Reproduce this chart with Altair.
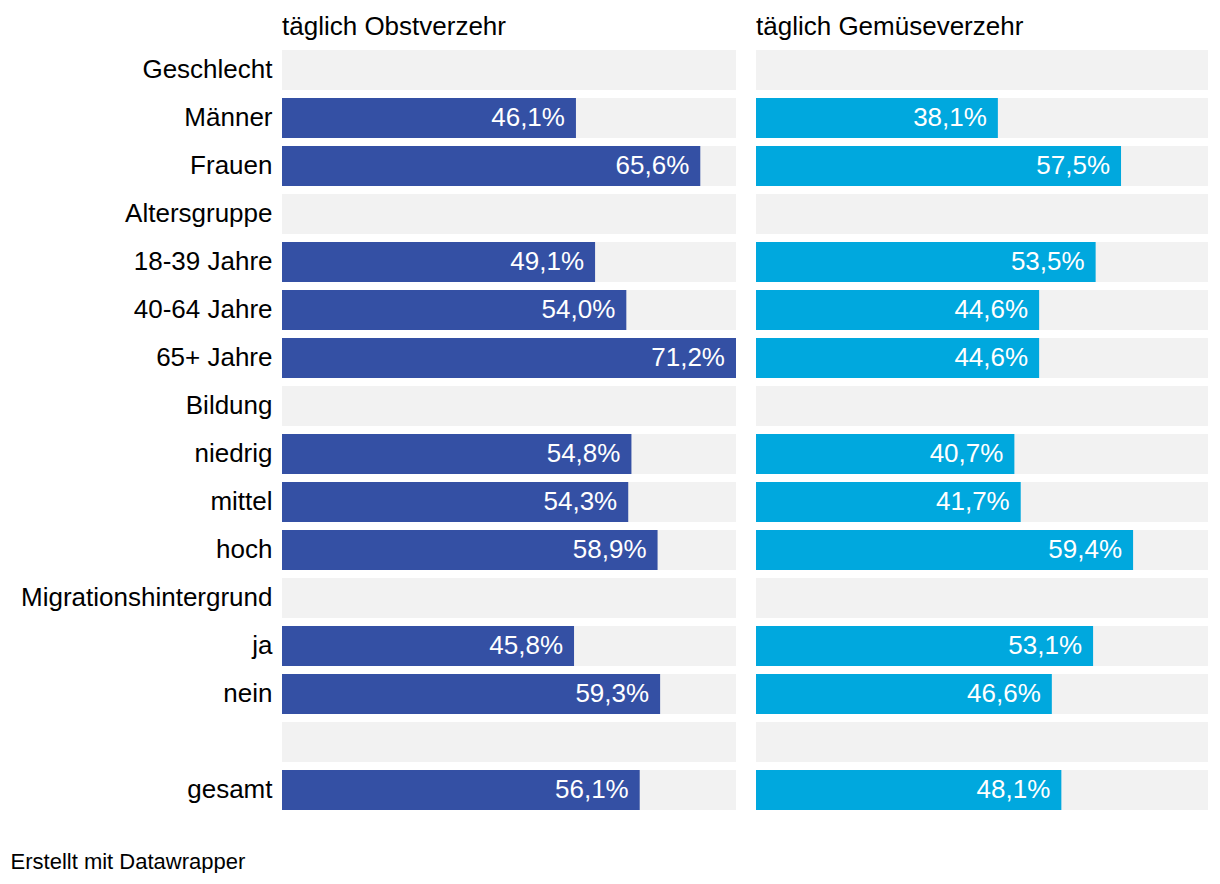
import altair as alt
import pandas as pd

keys = ["Geschlecht", "Männer", "Frauen", "Altersgruppe", "18-39 Jahre", "40-64 Jahre",
        "65+ Jahre", "Bildung", "niedrig", "mittel", "hoch", "Migrationshintergrund",
        "ja", "nein", "_blank", "gesamt"]
obst = [None, 46.1, 65.6, None, 49.1, 54.0, 71.2, None, 54.8, 54.3, 58.9, None, 45.8, 59.3, None, 56.1]
gemuese = [None, 38.1, 57.5, None, 53.5, 44.6, 44.6, None, 40.7, 41.7, 59.4, None, 53.1, 46.6, None, 48.1]
XMAX = 71.2

FONT = "Liberation Sans"
FS = 26


def fmt(v):
    return None if v is None else (f"{v:.1f}%").replace(".", ",")


def panel(values, color, title, width, show_axis):
    df = pd.DataFrame({
        "key": keys,
        "value": values,
        "label": [fmt(v) for v in values],
        "bg": [XMAX] * len(keys),
    })
    yaxis = alt.Axis(labelFontSize=FS, labelColor="#000", labelFont=FONT, labelPadding=10,
                     ticks=False, domain=False, title=None, labelLimit=400,
                     labelExpr="datum.label == '_blank' ? '' : datum.label") if show_axis else None
    y = alt.Y("key:N", sort=keys, axis=yaxis,
              scale=alt.Scale(paddingInner=1/6, paddingOuter=1/12))
    xs = alt.Scale(domain=[0, XMAX], nice=False, zero=True)
    base = alt.Chart(df)
    bg = base.mark_bar(color="#f2f2f2").encode(
        x=alt.X("bg:Q", scale=xs, axis=None), y=y)
    bars = base.transform_filter("datum.value != null").mark_bar(color=color).encode(
        x=alt.X("value:Q", scale=xs, axis=None), y=y)
    txt = base.transform_filter("datum.value != null").mark_text(
        align="right", baseline="middle", dx=-11, fontSize=FS, font=FONT, color="white"
    ).encode(x=alt.X("value:Q", scale=xs, axis=None), y=y, text="label:N")
    return alt.layer(bg, bars, txt).properties(
        width=width, height=768,
        title=alt.TitleParams(title, anchor="start", fontSize=FS, fontWeight="normal",
                              font=FONT, color="#000", offset=6, frame="group"))


left = panel(obst, "#3450a4", "täglich Obstverzehr", 454, True)
right = panel(gemuese, "#00a8de", "täglich Gemüseverzehr", 452, False)

chart = alt.hconcat(left, right, spacing=20).properties(
    title=alt.TitleParams("Erstellt mit Datawrapper", orient="bottom", anchor="start",
                          fontSize=22, fontWeight="normal", font=FONT, color="#000",
                          offset=38, dx=-10),
    padding={"left": 2, "top": 6, "right": 0, "bottom": 0},
).configure_view(stroke=None).resolve_scale(y="shared")

chart.save("out.html", embed_options={"renderer": "svg", "actions": False})
